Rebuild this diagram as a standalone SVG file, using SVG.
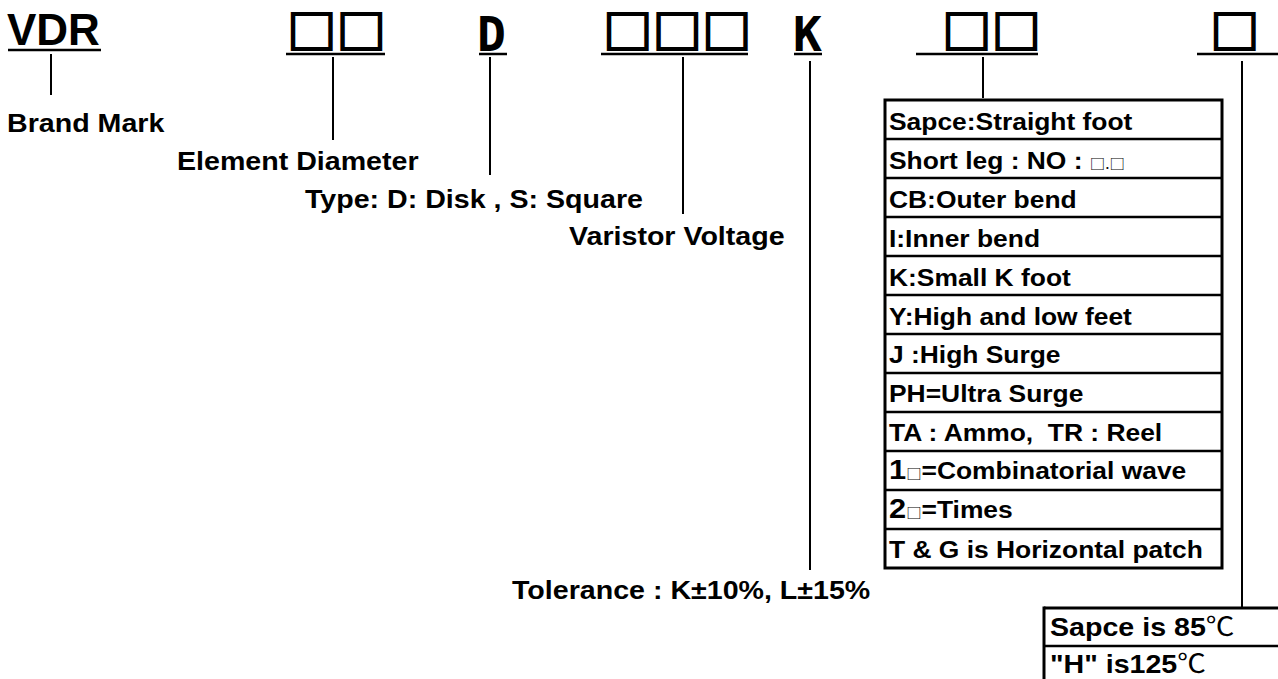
<svg xmlns="http://www.w3.org/2000/svg" width="1278" height="679" viewBox="0 0 1278 679">
<style>
.lbl{font-family:"Liberation Sans",Arial,sans-serif;font-weight:bold;font-size:26px;fill:#000}
.cell{font-family:"Liberation Sans",Arial,sans-serif;font-weight:bold;font-size:24px;fill:#000}
.mono{font-family:"DejaVu Sans Mono",monospace;font-weight:bold;font-size:48px;fill:#000}
.sq{font-family:"Noto Sans CJK SC",sans-serif;font-weight:bold;font-size:45px;fill:#000;stroke:#000;stroke-width:2}
.sm{font-family:"Noto Sans CJK SC",sans-serif;font-weight:normal;font-size:14px;fill:#000}
.deg{font-family:"Noto Sans CJK SC",sans-serif;font-weight:normal}
.ul{stroke:#000;stroke-width:2.5;fill:none}
.ln{stroke:#000;stroke-width:2;fill:none}
.box{stroke:#000;stroke-width:3;fill:none}
.div{stroke:#000;stroke-width:2.5;fill:none}
</style>
<rect width="1278" height="679" fill="#fff"/>
<g id="code">
  <g id="vdr"><text x="7" y="45" style="font-family:'Liberation Sans',Arial,sans-serif;font-weight:bold;font-size:44px">VDR</text><line class="ul" x1="8" y1="50" x2="101" y2="50"/></g>
  <g id="diam-code"><text class="sq" transform="translate(287,48.5) scale(1.1,1)">□□</text><line class="ul" x1="286" y1="54" x2="385" y2="54"/></g>
  <g id="type-code"><text class="mono" x="477" y="51">D</text><line class="ul" x1="479" y1="54" x2="507" y2="54"/></g>
  <g id="volt-code"><text class="sq" transform="translate(603,48.5) scale(1.1,1)">□□□</text><line class="ul" x1="601" y1="54" x2="748" y2="54"/></g>
  <g id="tol-code"><text class="mono" x="793" y="51">K</text><line class="ul" x1="794" y1="54" x2="822" y2="54"/></g>
  <g id="lead-code"><text class="sq" transform="translate(942,48.5) scale(1.1,1)">□□</text><line class="ul" x1="916" y1="54" x2="1038" y2="54"/></g>
  <g id="temp-code"><text class="sq" transform="translate(1210,48.5) scale(1.1,1)">□</text><line class="ul" x1="1197" y1="54" x2="1278" y2="54"/></g>
</g>
<g id="connectors">
  <line class="ln" x1="51" y1="54" x2="51" y2="95"/>
  <line class="ln" x1="333" y1="57" x2="333" y2="140"/>
  <line class="ln" x1="490" y1="57" x2="490" y2="175"/>
  <line class="ln" x1="683" y1="57" x2="683" y2="214"/>
  <line class="ln" x1="810" y1="61" x2="810" y2="570"/>
  <line class="ln" x1="983" y1="57" x2="983" y2="98"/>
  <line class="ln" x1="1242" y1="61" x2="1242" y2="608"/>
</g>
<g id="brand"><text class="lbl" transform="translate(7,132) scale(1.1,1)">Brand Mark</text></g>
<g id="element"><text class="lbl" transform="translate(177,170) scale(1.1,1)">Element Diameter</text></g>
<g id="type"><text class="lbl" transform="translate(305,208) scale(1.1,1)">Type: D: Disk , S: Square</text></g>
<g id="varistor"><text class="lbl" transform="translate(569,245) scale(1.1,1)">Varistor Voltage</text></g>
<g id="tolerance"><text class="lbl" transform="translate(512,599) scale(1.1,1)">Tolerance : K±10%, L±15%</text></g>
<g id="lead-table">
  <rect class="box" x="885" y="100" width="337" height="468"/>
  <line class="div" x1="885" y1="139" x2="1222" y2="139"/>
  <line class="div" x1="885" y1="178" x2="1222" y2="178"/>
  <line class="div" x1="885" y1="217" x2="1222" y2="217"/>
  <line class="div" x1="885" y1="256" x2="1222" y2="256"/>
  <line class="div" x1="885" y1="295" x2="1222" y2="295"/>
  <line class="div" x1="885" y1="334" x2="1222" y2="334"/>
  <line class="div" x1="885" y1="373" x2="1222" y2="373"/>
  <line class="div" x1="885" y1="412" x2="1222" y2="412"/>
  <line class="div" x1="885" y1="451" x2="1222" y2="451"/>
  <line class="div" x1="885" y1="490" x2="1222" y2="490"/>
  <line class="div" x1="885" y1="529" x2="1222" y2="529"/>
  <text class="cell" transform="translate(889,130) scale(1.1,1)">Sapce:Straight foot</text>
  <text class="cell" transform="translate(889,169) scale(1.1,1)">Short leg : NO : <tspan class="sm">□.□</tspan></text>
  <text class="cell" transform="translate(889,208) scale(1.1,1)">CB:Outer bend</text>
  <text class="cell" transform="translate(889,247) scale(1.1,1)">I:Inner bend</text>
  <text class="cell" transform="translate(889,286) scale(1.1,1)">K:Small K foot</text>
  <text class="cell" transform="translate(889,325) scale(1.1,1)">Y:High and low feet</text>
  <text class="cell" transform="translate(889,363) scale(1.1,1)">J :High Surge</text>
  <text class="cell" transform="translate(889,402) scale(1.1,1)">PH=Ultra Surge</text>
  <text class="cell" transform="translate(889,441) scale(1.1,1)" xml:space="preserve">TA : Ammo,  TR : Reel</text>
  <text class="cell" transform="translate(889,479) scale(1.1,1)"><tspan font-size="28">1</tspan><tspan class="sm">□</tspan>=Combinatorial wave</text>
  <text class="cell" transform="translate(889,518) scale(1.1,1)"><tspan font-size="28">2</tspan><tspan class="sm">□</tspan>=Times</text>
  <text class="cell" transform="translate(889,558) scale(1.1,1)">T &amp; G is Horizontal patch</text>
</g>
<g id="temp-table">
  <line class="box" x1="1044" y1="608" x2="1278" y2="608"/>
  <line class="box" x1="1044" y1="606.5" x2="1044" y2="679"/>
  <line class="div" x1="1044" y1="646" x2="1278" y2="646"/>
  <text class="lbl" transform="translate(1050,636) scale(1.1,1)">Sapce is 85<tspan class="deg">℃</tspan></text>
  <text class="lbl" transform="translate(1050,673) scale(1.1,1)">"H" is125<tspan class="deg">℃</tspan></text>
</g>
</svg>
